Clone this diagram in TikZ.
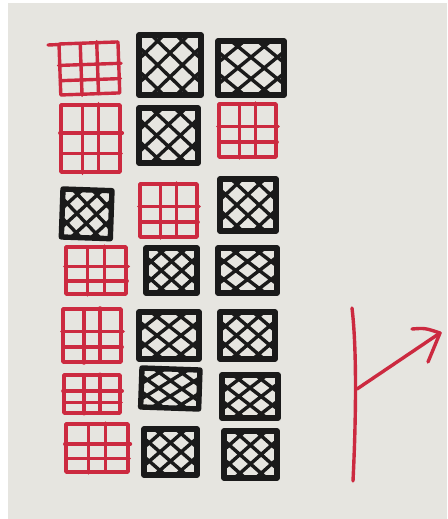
\documentclass[tikz,border=0pt]{standalone}
\definecolor{paper}{RGB}{230,229,224}
\definecolor{mred}{RGB}{204,42,64}
\definecolor{mblk}{RGB}{26,26,26}
\tikzset{
  redline/.style={draw=mred, line width=3.4pt, line cap=round, line join=round},
  blkframe/.style={draw=mblk, line width=5.4pt, line cap=round, line join=round},
  blkhatch/.style={draw=mblk, line width=3.4pt, line cap=round},
}
% red 3x3 grid: [rotation]{x}{y}{w}{h} (pixel units, y down)
\newcommand\RGrid[5][0]{%
  \begin{scope}[shift={(#2,#3)}, rotate=#1, xscale=#4, yscale=#5]
    \draw[redline] (0,0) rectangle (1,1);
    \draw[redline] (0.36,0) -- (0.36,1.02) (0.64,-0.02) -- (0.64,1)
                   (-0.02,0.42) -- (1.04,0.42) (0,0.72) -- (1.02,0.72);
  \end{scope}}
% black cross-hatched square
\newcommand\BHatch[5][0]{%
  \begin{scope}[shift={(#2,#3)}, rotate=#1, xscale=#4, yscale=#5]
    \draw[blkhatch] (0.6,0) -- (1,0.4) (0.2,0) -- (1,0.8)
                    (0,0.2) -- (0.8,1) (0,0.6) -- (0.4,1)
                    (0.4,0) -- (0,0.4) (0.8,0) -- (0,0.8)
                    (1,0.2) -- (0.2,1) (1,0.6) -- (0.6,1);
    \draw[blkframe] (0,0) rectangle (1,1);
  \end{scope}}
\begin{document}
\begin{tikzpicture}[x=1pt,y=-1pt]
  \useasboundingbox (0,0) rectangle (447,519);
  \fill[white] (0,0) rectangle (447,519);
  \fill[paper] (8,3) rectangle (447,519);

  % row 1
  \RGrid[2]{59}{44}{59}{51}
  \draw[redline] (48,45) -- (60,44.5);
  \BHatch{139}{35}{62}{60}
  \BHatch{218}{41}{66}{54}
  % row 2
  \RGrid{61}{105}{59}{67}
  \BHatch{139}{108}{59}{55}
  \RGrid{219}{104}{57}{53}
  % row 3
  \BHatch[-2]{63}{189}{49}{48}
  \RGrid{140}{184}{57}{53}
  \BHatch{220}{179}{56}{52}
  % row 4
  \RGrid{66}{247}{60}{47}
  \BHatch{146}{248}{51}{45}
  \BHatch{218}{248}{59}{45}
  % row 5
  \RGrid{63}{309}{58}{53}
  \BHatch{139}{312}{60}{47}
  \BHatch{220}{312}{55}{47}
  % row 6
  \RGrid{64}{375}{56}{38}
  \BHatch[-2]{142}{368}{58}{39}
  \BHatch{222}{375}{56}{43}
  % row 7
  \RGrid{66}{424}{62}{48}
  \BHatch{144}{429}{53}{46}
  \BHatch{224}{431}{53}{47}

  % branching arrow
  \coordinate (vtop) at (352,308);
  \coordinate (vbot) at (353,481);
  \coordinate (fork) at (357,389);
  \coordinate (tip) at (440,333);
  \coordinate (armA) at (412,329);
  \coordinate (armB) at (428,362);
  \draw[redline] (vtop) .. controls (357,350) and (356,420) .. (vbot);
  \draw[redline] (fork) -- (tip);
  \draw[redline] (armA) .. controls (425,328) .. (tip) -- (armB);
\end{tikzpicture}
\end{document}
